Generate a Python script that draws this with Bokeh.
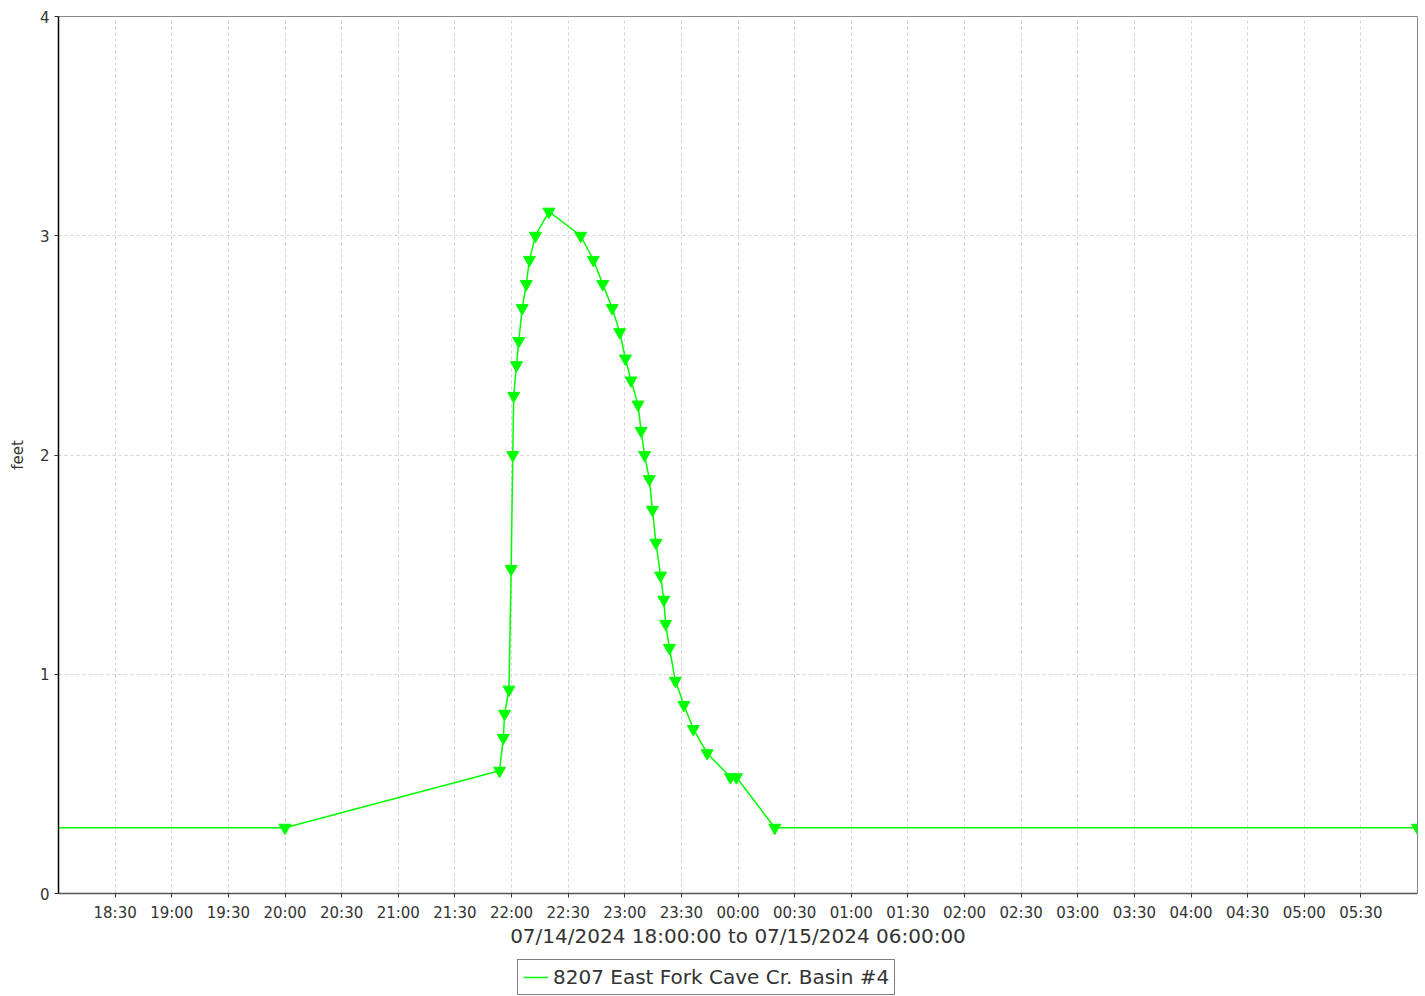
import pandas as pd
from bokeh.plotting import figure
from bokeh.layouts import column
from bokeh.models import (ColumnDataSource, FixedTicker, DatetimeTickFormatter,
                          Range1d, Legend, LegendItem)
from bokeh.embed import file_html
from bokeh.resources import INLINE

# ---- data ----
times = [
    "2024-07-14 17:30:00", "2024-07-14 20:00:00",
    "2024-07-14 21:53:40", "2024-07-14 21:55:40", "2024-07-14 21:56:20",
    "2024-07-14 21:58:40", "2024-07-14 21:59:50", "2024-07-14 22:00:40",
    "2024-07-14 22:01:10", "2024-07-14 22:02:40", "2024-07-14 22:03:50",
    "2024-07-14 22:05:40", "2024-07-14 22:07:50", "2024-07-14 22:09:30",
    "2024-07-14 22:12:40", "2024-07-14 22:19:50", "2024-07-14 22:36:40",
    "2024-07-14 22:43:20", "2024-07-14 22:48:20", "2024-07-14 22:53:20",
    "2024-07-14 22:57:20", "2024-07-14 23:00:20", "2024-07-14 23:03:20",
    "2024-07-14 23:07:00", "2024-07-14 23:08:40", "2024-07-14 23:10:30",
    "2024-07-14 23:13:00", "2024-07-14 23:14:40", "2024-07-14 23:16:30",
    "2024-07-14 23:19:00", "2024-07-14 23:20:40", "2024-07-14 23:21:40",
    "2024-07-14 23:23:40", "2024-07-14 23:26:50", "2024-07-14 23:31:20",
    "2024-07-14 23:36:20", "2024-07-14 23:43:40", "2024-07-14 23:56:00",
    "2024-07-14 23:59:10", "2024-07-15 00:19:30", "2024-07-15 06:00:00",
]
depth_ft = [
    0.30, 0.30,
    0.56, 0.71, 0.82,
    0.93, 1.48, 2.00,
    2.27, 2.41, 2.52,
    2.67, 2.78, 2.89,
    3.00, 3.11, 3.00,
    2.89, 2.78, 2.67,
    2.56, 2.44, 2.34,
    2.23, 2.11, 2.00,
    1.89, 1.75, 1.60,
    1.45, 1.34, 1.23,
    1.12, 0.97, 0.86,
    0.75, 0.64, 0.53,
    0.53, 0.30, 0.30,
]
x_start = "2024-07-14 18:00:00"
x_end = "2024-07-15 06:00:00"
tick_times = pd.date_range("2024-07-14 18:30", "2024-07-15 05:30", freq="30min")
y_ticks = [0, 1, 2, 3, 4]
series_name = "8207 East Fork Cave Cr. Basin #4"
x_title = "07/14/2024 18:00:00 to 07/15/2024 06:00:00"
y_title = "feet"

src = ColumnDataSource(dict(t=pd.to_datetime(times), v=depth_ft))

FONT = "DejaVu Sans"
GREEN = "#00ff00"

p = figure(width=1425, height=953, x_axis_type="datetime",
           x_range=Range1d(pd.Timestamp(x_start), pd.Timestamp(x_end)),
           y_range=Range1d(0, 4),
           output_backend="svg", toolbar_location=None,
           min_border_left=58, min_border_top=16, min_border_right=8,
           min_border_bottom=60)

p.background_fill_color = "white"
p.border_fill_color = "white"
p.outline_line_color = "#888888"
p.outline_line_width = 1

line_r = p.line("t", "v", source=src, line_color=GREEN, line_width=1.5)
p.scatter("t", "v", source=src, marker="inverted_triangle", size=12,
          fill_color=GREEN, line_color=GREEN)

# x axis
tick_ms = [int(t.value // 10**6) for t in tick_times]
p.xaxis.ticker = FixedTicker(ticks=tick_ms)
fmt = "%H:%M"
p.xaxis.formatter = DatetimeTickFormatter(
    microseconds=fmt, milliseconds=fmt, seconds=fmt, minsec=fmt, minutes=fmt,
    hourmin=fmt, hours=fmt, days=fmt, months=fmt, years=fmt)
p.xaxis.axis_label = x_title
p.xaxis.axis_label_text_font = FONT
p.xaxis.axis_label_text_font_style = "normal"
p.xaxis.axis_label_text_font_size = "20px"
p.xaxis.axis_label_text_color = "#333333"
p.xaxis.axis_label_standoff = -1
p.xaxis.major_label_text_font = FONT
p.xaxis.major_label_text_font_size = "15px"
p.xaxis.major_label_text_color = "#333333"
p.xaxis.major_label_standoff = 6
p.xaxis.major_tick_out = 4
p.xaxis.major_tick_in = 0
p.xaxis.minor_tick_out = 0
p.xaxis.minor_tick_in = 0
p.xaxis.axis_line_color = "#555555"
p.xaxis.axis_line_width = 1.5
p.xaxis.major_tick_line_color = "#333333"

# y axis
p.yaxis.ticker = FixedTicker(ticks=y_ticks)
p.yaxis.axis_label = y_title
p.yaxis.axis_label_text_font = FONT
p.yaxis.axis_label_text_font_style = "normal"
p.yaxis.axis_label_text_font_size = "15px"
p.yaxis.axis_label_text_color = "#333333"
p.yaxis.axis_label_standoff = 10
p.yaxis.major_label_text_font = FONT
p.yaxis.major_label_text_font_size = "15px"
p.yaxis.major_label_text_color = "#333333"
p.yaxis.major_label_standoff = 5
p.yaxis.major_tick_out = 4
p.yaxis.major_tick_in = 0
p.yaxis.minor_tick_out = 0
p.yaxis.minor_tick_in = 0
p.yaxis.axis_line_color = "black"
p.yaxis.axis_line_width = 1.5
p.yaxis.major_tick_line_color = "#333333"

# grid
p.xgrid.ticker = FixedTicker(ticks=tick_ms)
p.ygrid.ticker = FixedTicker(ticks=y_ticks)
for g in (p.xgrid, p.ygrid):
    g.grid_line_color = "#d4d4d4"
    g.grid_line_dash = "3 3"
    g.grid_line_width = 1

# ---- legend strip below the chart ----
leg = figure(width=1425, height=43, x_range=Range1d(0, 1), y_range=Range1d(0, 1),
             output_backend="svg", toolbar_location=None,
             x_axis_location=None, y_axis_location=None,
             min_border=0, min_border_left=0, min_border_right=0,
             min_border_top=0, min_border_bottom=0)
leg.outline_line_color = None
leg.grid.visible = False
leg.background_fill_color = "white"
leg.border_fill_color = "white"
# same series, outside this strip's ranges: only its legend swatch shows
leg_line = leg.line("t", "v", source=src, line_color=GREEN, line_width=1.5)

legend = Legend(items=[LegendItem(label=series_name, renderers=[leg_line])],
                location=(459, 1), orientation="horizontal",
                label_text_font=FONT, label_text_font_size="20px",
                label_text_color="#333333",
                glyph_width=25, glyph_height=20, label_standoff=5,
                label_height=20,
                padding=5, margin=0, spacing=0,
                border_line_color="black", border_line_width=1,
                background_fill_color="white", background_fill_alpha=1)
leg.add_layout(legend, "center")

layout = column(p, leg, spacing=0)
open("out.html", "w").write(file_html(layout, INLINE))
